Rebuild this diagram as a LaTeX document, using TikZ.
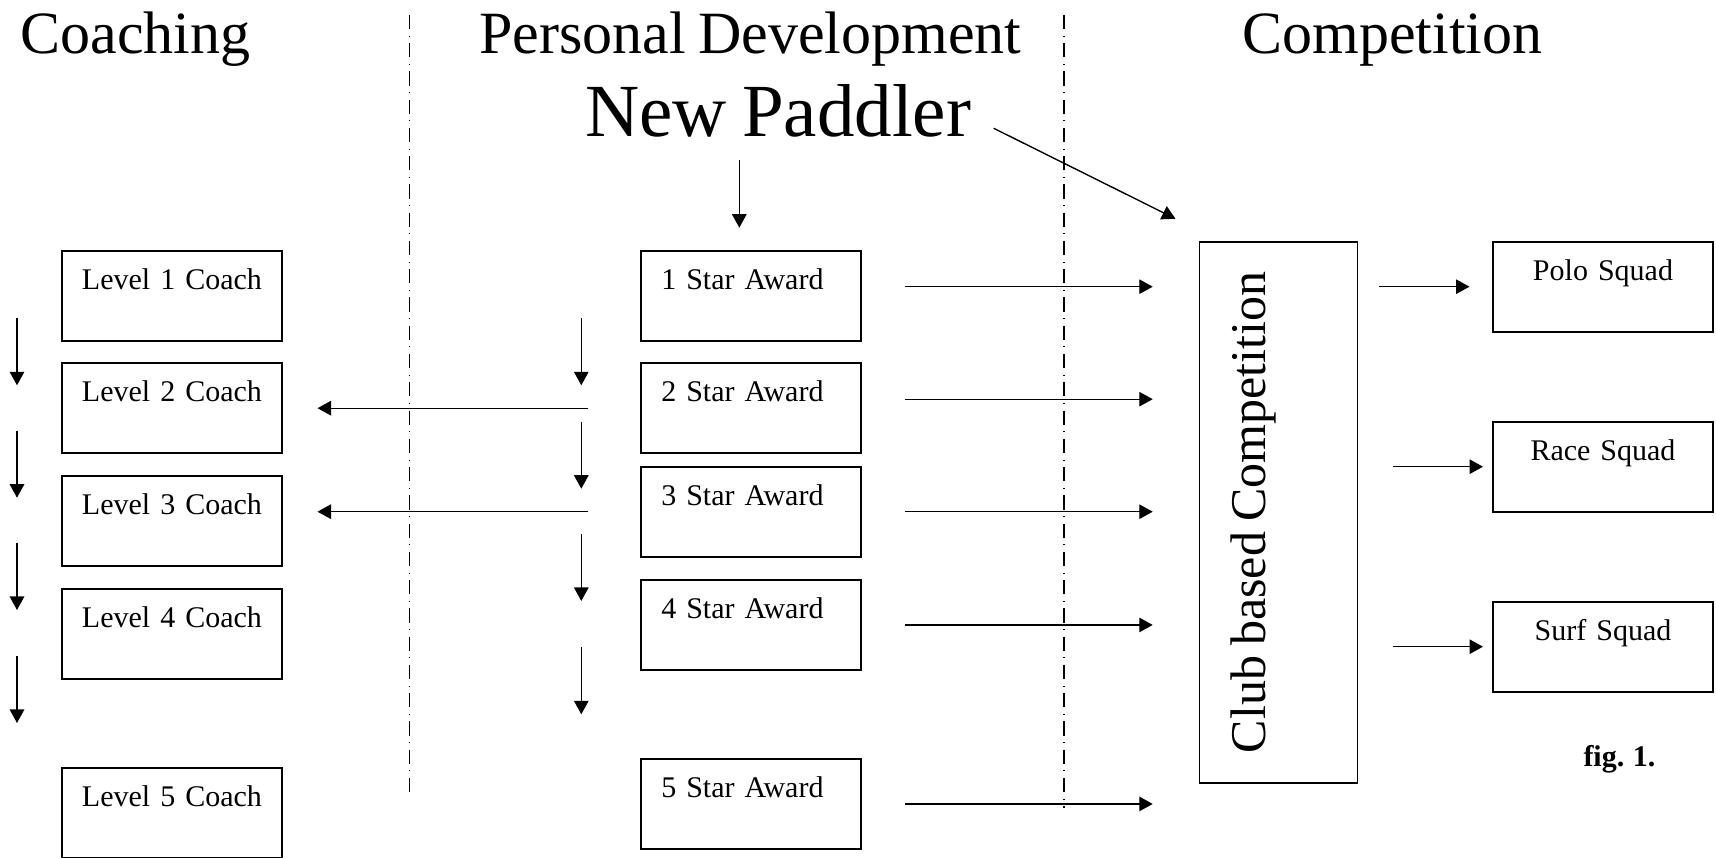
\documentclass[tikz,border=0pt]{standalone}
\usepackage{fontspec}
\setmainfont[WordSpace=0.8]{Liberation Serif}
\usetikzlibrary{arrows.meta, positioning, calc}
\tikzset{
    box/.style={rectangle, draw, line width=0.7pt, outer sep=0pt, minimum width=88pt, minimum height=36pt, inner xsep=8pt, inner ysep=0pt, text width=72pt, text height=15.4pt, text depth=20.6pt, font=\fontsize{12}{14}\selectfont},
    award/.style={box, align=left},
    squad/.style={box, align=center},
    heading/.style={anchor=base west, inner sep=0pt, font=\fontsize{24}{28}\selectfont},
    arrow/.style={line width=0.55pt, -{Triangle[length=5.4pt, width=5.8pt]}},
    divider/.style={line width=0.45pt, dash pattern=on 5.7pt off 2.6pt on 0.4pt off 2.6pt}
}

\begin{document}
\begin{tikzpicture}[x=0.4pt, y=-0.4pt]
    \useasboundingbox (0,0) rectangle (1716,858);

    % headings
    \node (coaching) [heading] at (20,53.3) {Coaching};
    \node (personal) [heading] at (479,53.3) {Personal Development};
    \node (competition) [heading] at (1242,53.3) {Competition};
    \node (paddler) [heading, font=\fontsize{30}{34}\selectfont] at (585,136.7) {New Paddler};

    \draw [divider] (409.7,15) -- (409.7,798);
    \draw [divider] (1064,15) -- (1064,808);

    % coaching levels
    \node (l1) [award, anchor=north west] at (62,250.7) {Level 1 Coach};
    \node (l2) [award, below=9pt of l1] {Level 2 Coach};
    \node (l3) [award, below=9.2pt of l2] {Level 3 Coach};
    \node (l4) [award, below=9.2pt of l3] {Level 4 Coach};
    \node (l5) [award, below=35.5pt of l4] {Level 5 Coach};

    % star awards
    \node (s1) [award, anchor=north west] at (641.3,250.7) {1 Star Award};
    \node (s2) [award, below=9pt of s1] {2 Star Award};
    \node (s3) [award, below=5.4pt of s2] {3 Star Award};
    \node (s4) [award, below=9.3pt of s3] {4 Star Award};
    \node (s5) [award, below=35.6pt of s4] {5 Star Award};

    % competition
    \node (club) [rotate=90, draw, line width=0.7pt, outer sep=0pt, minimum width=216.6pt, minimum height=63.2pt, inner sep=0pt, text height=26.2pt, text depth=37pt, font=\fontsize{20}{24}\selectfont] at (1278.5,512.5) {Club based Competition};
    \node (polo) [squad, anchor=north west] at (1493,241.7) {Polo Squad};
    \node (race) [squad, below=36pt of polo] {Race Squad};
    \node (surf) [squad, below=36pt of race] {Surf Squad};

    \node (fig) [anchor=base west, inner sep=0pt, font=\fontsize{12}{14}\selectfont\bfseries] at (1583,766.7) {fig. 1.};

    % new paddler
    \coordinate (corner) at (club.north |- club.east);
    \draw [arrow] ([shift={(-12,-90.7)}]s1.north) -- ([shift={(-12,-23)}]s1.north);
    \draw [arrow] ([shift={(22,-8.4)}]paddler.base east) -- ($(corner)+(-24,-23)$);

    % awards to club competition
    \foreach \s/\dy in {s1/-9, s2/-9, s3/0, s4/0, s5/0}
        \draw [arrow, shorten <=17.5pt, shorten >=18.7pt] ($(\s.east)+(0,\dy)$) -- ($(\s.east -| club.north)+(0,\dy)$);

    % awards to coaching
    \foreach \s/\l in {s2/l2, s3/l3}
        \draw [arrow, shorten <=21.2pt, shorten >=14.2pt] (\s.west) -- (\s.west -| \l.east);

    % progression
    \foreach \i/\y in {1/318.3, 2/421.7, 3/534, 4/647.3} {
        \coordinate (pa\i) at (581.3,\y);
        \coordinate (pb\i) at (581.3,\y+67);
        \draw [arrow] (pa\i) -- (pb\i);
    }
    \foreach \i/\y in {1/318.3, 2/430.7, 3/543, 4/656} {
        \coordinate (ca\i) at (17,\y);
        \coordinate (cb\i) at (17,\y+67);
        \draw [arrow] (ca\i) -- (cb\i);
    }

    % squads
    \draw [arrow, shorten <=8.6pt, shorten >=9.4pt] (club.south |- polo.west) -- (polo.west);
    \foreach \q in {race, surf}
        \draw [arrow, shorten <=14pt, shorten >=4pt] (club.south |- \q.west) -- (\q.west);
\end{tikzpicture}
\end{document}
